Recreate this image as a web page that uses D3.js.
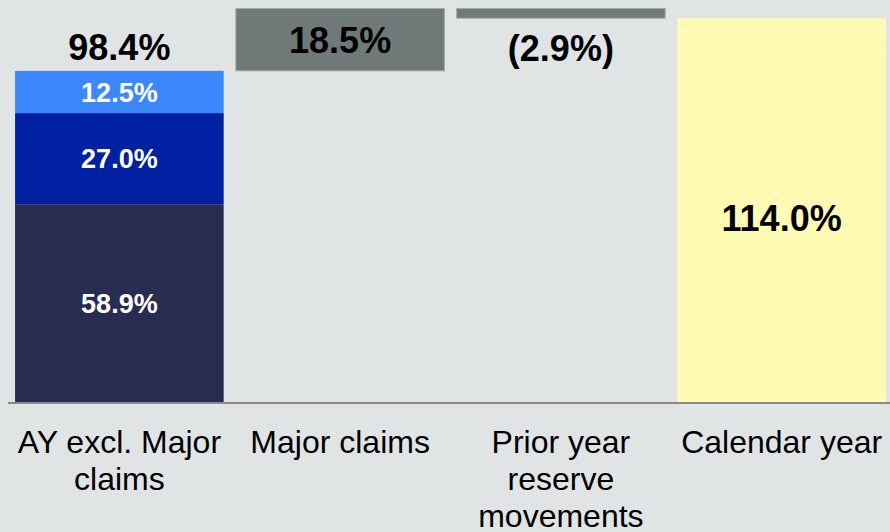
<!DOCTYPE html>
<html>
<head>
<meta charset="utf-8">
<script src="https://cdn.jsdelivr.net/npm/d3@7"></script>
<style>
  html, body { margin: 0; padding: 0; background: #e1e4e5; }
  svg { display: block; font-family: "Liberation Sans", Arial, sans-serif; }
</style>
</head>
<body>
<svg id="chart" width="890" height="532"></svg>
<script>
// categories along the x axis
let categories = ["AY excl. Major claims", "Major claims", "Prior year reserve movements", "Calendar year"];

// stacked pieces of the first bar (bottom to top)
let ayParts = [58.9, 27.0, 12.5];
let ayPartLabels = ["58.9%", "27.0%", "12.5%"];

// waterfall steps
let majorClaims = 18.5;
let priorYear = -2.9;
let calendarYear = 114.0;

let totalLabels = ["98.4%", "18.5%", "(2.9%)", "114.0%"];

let svg = d3.select("#chart");
let W = 890, H = 532;
let base = 403;

let x = d3.scaleBand()
  .domain(categories)
  .range([9, 892])
  .paddingInner(0.055)
  .paddingOuter(0.0275);

let y = d3.scaleLinear()
  .domain([0, 119.4])
  .range([base, 0]);

let partColors = ["#272d50", "#0021a1", "#3d87fc"];

// stacked first bar
let stack = [];
let acc = 0;
for (let i = 0; i < ayParts.length; i++) {
  stack.push({ y0: acc, y1: acc + ayParts[i], c: partColors[i], label: ayPartLabels[i] });
  acc += ayParts[i];
}
let ayTotal = acc;

let g = svg.append("g");

g.selectAll("rect.part")
  .data(stack)
  .join("rect")
  .attr("class", "part")
  .attr("x", x(categories[0]))
  .attr("width", x.bandwidth())
  .attr("y", d => y(d.y1))
  .attr("height", d => y(d.y0) - y(d.y1))
  .attr("fill", d => d.c);

g.selectAll("text.part")
  .data(stack)
  .join("text")
  .attr("class", "part")
  .attr("x", x(categories[0]) + x.bandwidth() / 2)
  .attr("y", d => (y(d.y0) + y(d.y1)) / 2)
  .attr("dy", "0.36em")
  .attr("text-anchor", "middle")
  .attr("fill", "#ffffff")
  .attr("font-weight", "bold")
  .attr("font-size", 27)
  .text(d => d.label);

// floating steps
let steps = [
  { cat: categories[1], lo: ayTotal, hi: ayTotal + majorClaims, fill: "#6f7a78" },
  { cat: categories[2], lo: ayTotal + majorClaims + priorYear, hi: ayTotal + majorClaims, fill: "#6f7a78" },
  { cat: categories[3], lo: 0, hi: calendarYear, fill: "#fffab4" }
];

g.selectAll("rect.step")
  .data(steps)
  .join("rect")
  .attr("class", "step")
  .attr("x", d => x(d.cat))
  .attr("width", x.bandwidth())
  .attr("y", d => y(d.hi))
  .attr("height", d => y(d.lo) - y(d.hi))
  .attr("fill", d => d.fill)
  .attr("stroke", (d, i) => i < 2 ? "#a3abaa" : "none")
  .attr("stroke-width", 1);

// baseline
svg.append("line")
  .attr("x1", 8).attr("x2", W)
  .attr("y1", base).attr("y2", base)
  .attr("stroke", "#8a8a8a")
  .attr("stroke-width", 2);

// total labels
let labelPos = [
  { cat: categories[0], y: y(ayTotal) - 11 },
  { cat: categories[1], y: (y(steps[0].lo) + y(steps[0].hi)) / 2 + 13 },
  { cat: categories[2], y: y(steps[1].lo) + 43 },
  { cat: categories[3], y: (y(0) + y(calendarYear)) / 2 + 20 }
];

g.selectAll("text.total")
  .data(labelPos)
  .join("text")
  .attr("class", "total")
  .attr("x", d => x(d.cat) + x.bandwidth() / 2)
  .attr("y", d => d.y)
  .attr("text-anchor", "middle")
  .attr("font-weight", "bold")
  .attr("font-size", 36)
  .attr("fill", "#000")
  .text((d, i) => totalLabels[i]);

// category labels with wrapping
let xAxis = svg.append("g").attr("transform", `translate(0,${base})`)
  .call(d3.axisBottom(x).tickSize(0).tickPadding(0));
xAxis.select(".domain").remove();
xAxis.selectAll(".tick text")
  .attr("font-size", 32)
  .attr("font-family", "'Liberation Sans', Arial, sans-serif")
  .attr("fill", "#000")
  .attr("y", 50)
  .attr("dy", 0)
  .each(function () { wrap(d3.select(this), 222); });

function wrap(text, width) {
  let words = text.text().split(/\s+/);
  let lines = [];
  let line = [];
  text.text(null);
  let tspan = text.append("tspan");
  for (let w of words) {
    line.push(w);
    tspan.text(line.join(" "));
    if (tspan.node().getComputedTextLength() > width && line.length > 1) {
      line.pop();
      lines.push(line.join(" "));
      line = [w];
    }
  }
  lines.push(line.join(" "));
  text.text(null);
  lines.forEach((l, i) => {
    text.append("tspan").attr("x", 0).attr("y", 50 + i * 37).text(l);
  });
}
</script>
</body>
</html>
